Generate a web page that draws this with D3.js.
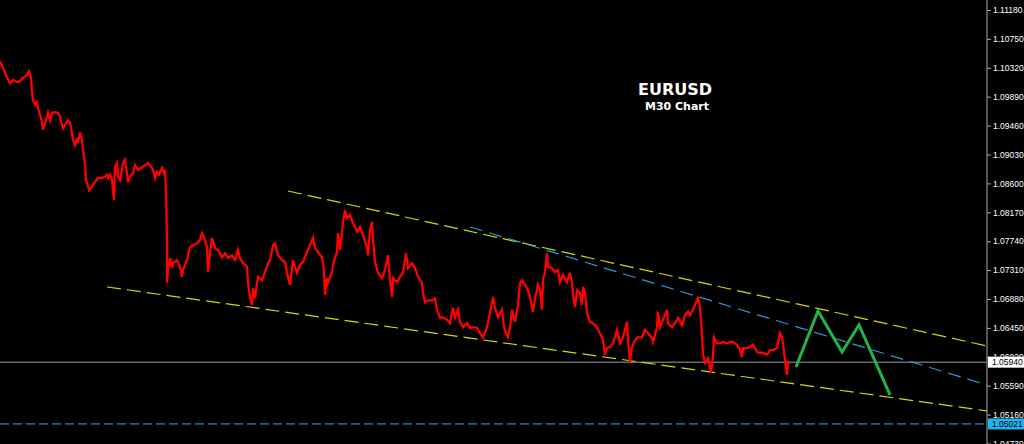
<!DOCTYPE html>
<html><head><meta charset="utf-8">
<script src="https://cdn.jsdelivr.net/npm/d3@7"></script>
<style>html,body{margin:0;padding:0;background:#000;overflow:hidden}</style>
</head><body><svg id="c" width="1024" height="444"></svg>
<script>
const title = "EURUSD";
const subtitle = "M30 Chart";
const tickLabels = ["1.11180","1.10750","1.10320","1.09890","1.09460","1.09030","1.08600","1.08170","1.07740","1.07310","1.06880","1.06450","1.06020","1.05590","1.05160","1.04730"];
const bars = [0,3,7,10,13,17,20,23,27,29,31,32,33,35,37,38,40,42,43,45,47,48,50,52,55,58,60,62,63,65,68,70,72,73,75,77,78,80,82,83,85,86,87,89,92,95,98,102,105,107,108,110,112,113,114,115,117,118,120,122,123,125,127,128,130,133,135,138,142,145,148,152,153,155,157,159,162,164,165,166,167,167,168,170,172,173,177,180,182,183,187,190,193,197,200,202,204,207,208,210,212,215,218,222,225,228,232,235,238,240,243,247,248,250,252,253,255,257,258,262,265,268,270,273,275,278,282,285,287,290,293,295,297,300,303,307,310,313,315,318,322,324,325,327,328,332,333,337,338,340,342,343,345,347,350,353,357,360,363,367,368,370,372,373,375,378,382,385,388,390,392,393,397,400,403,406,408,412,415,418,422,423,425,428,432,435,437,440,443,447,450,453,455,458,460,463,467,470,473,477,480,483,487,490,493,495,498,502,504,506,508,510,512,515,518,520,522,525,528,530,533,535,537,538,540,542,543,545,547,548,552,555,558,560,563,567,570,572,573,575,577,580,582,583,585,587,590,593,597,600,603,605,607,610,613,617,620,623,627,628,630,632,635,638,642,645,648,652,653,657,658,660,663,667,668,672,675,678,682,685,688,690,693,697,698,700,702,703,705,708,711,713,714,717,720,723,727,730,733,737,740,742,743,747,750,753,757,760,763,767,770,773,777,780,782,783,785,787,788,789];
const prices = [1.1042,1.1032,1.1018,1.1009,1.1014,1.1011,1.1012,1.1017,1.1021,1.1027,1.1018,1.0996,1.0984,1.0977,1.0981,1.0972,1.0962,1.0951,1.0940,1.0950,1.0959,1.0965,1.0954,1.0965,1.0966,1.0965,1.0959,1.0947,1.0942,1.0947,1.0954,1.0951,1.0935,1.0925,1.0917,1.0928,1.0920,1.0936,1.0925,1.0910,1.0890,1.0865,1.0861,1.0850,1.0855,1.0862,1.0868,1.0868,1.0870,1.0873,1.0868,1.0873,1.0865,1.0850,1.0835,1.0884,1.0890,1.0870,1.0865,1.0880,1.0890,1.0895,1.0875,1.0862,1.0870,1.0875,1.0887,1.0880,1.0884,1.0887,1.0890,1.0883,1.0880,1.0868,1.0877,1.0873,1.0883,1.0875,1.0880,1.0846,1.0780,1.0712,1.0731,1.0749,1.0734,1.0741,1.0746,1.0736,1.0721,1.0731,1.0746,1.0765,1.0768,1.0771,1.0776,1.0786,1.0780,1.0765,1.0728,1.0756,1.0779,1.0764,1.0761,1.0750,1.0756,1.0749,1.0753,1.0746,1.0761,1.0749,1.0741,1.0736,1.0712,1.0691,1.0679,1.0704,1.0689,1.0712,1.0721,1.0716,1.0728,1.0741,1.0746,1.0768,1.0771,1.0753,1.0746,1.0743,1.0727,1.0709,1.0746,1.0736,1.0727,1.0739,1.0743,1.0758,1.0768,1.0779,1.0764,1.0758,1.0750,1.0731,1.0694,1.0719,1.0712,1.0728,1.0739,1.0758,1.0786,1.0761,1.0786,1.0803,1.0820,1.0808,1.0813,1.0801,1.0788,1.0795,1.0783,1.0765,1.0753,1.0791,1.0803,1.0776,1.0743,1.0727,1.0719,1.0731,1.0753,1.0716,1.0691,1.0719,1.0713,1.0721,1.0727,1.0756,1.0734,1.0741,1.0734,1.0721,1.0712,1.0697,1.0683,1.0686,1.0686,1.0689,1.0672,1.0660,1.0661,1.0657,1.0652,1.0675,1.0660,1.0672,1.0654,1.0646,1.0652,1.0645,1.0646,1.0645,1.0637,1.0631,1.0646,1.0667,1.0691,1.0675,1.0661,1.0672,1.0646,1.0637,1.0631,1.0646,1.0672,1.0654,1.0679,1.0712,1.0716,1.0709,1.0701,1.0691,1.0669,1.0689,1.0701,1.0709,1.0701,1.0672,1.0716,1.0728,1.0756,1.0736,1.0734,1.0728,1.0731,1.0713,1.0724,1.0713,1.0727,1.0712,1.0694,1.0676,1.0701,1.0697,1.0679,1.0706,1.0697,1.0667,1.0654,1.0652,1.0646,1.0637,1.0627,1.0605,1.0615,1.0617,1.0622,1.0642,1.0622,1.0631,1.0654,1.0627,1.0594,1.0617,1.0627,1.0631,1.0631,1.0642,1.0637,1.0630,1.0624,1.0646,1.0669,1.0646,1.0657,1.0672,1.0652,1.0646,1.0652,1.0660,1.0649,1.0664,1.0669,1.0664,1.0672,1.0686,1.0689,1.0676,1.0637,1.0605,1.0593,1.0600,1.0578,1.0602,1.0631,1.0622,1.0622,1.0624,1.0622,1.0624,1.0624,1.0620,1.0612,1.0602,1.0615,1.0615,1.0617,1.0620,1.0609,1.0608,1.0608,1.0605,1.0612,1.0612,1.0615,1.0637,1.0631,1.0622,1.0597,1.0575,1.0593,1.0590];
const upperChannel = [[288,1.08487],[987,1.06181]];
const lowerChannel = [[107,1.07059],[987,1.05214]];
const blueTrend = [[470,1.07952],[987,1.05601]];
const forecast = [[796,1.05868],[818,1.06701],[842,1.06091],[859,1.06493],[890,1.05452]];
const currentPrice = 1.05940;
const levelPrice = 1.05021;

const svg = d3.select("#c");
const W = 1024, H = 444, plotRight = 987;
svg.append("rect").attr("width", W).attr("height", H).attr("fill", "#000");

const x = d3.scaleLinear().domain([0, 987]).range([0, plotRight]);
const y = d3.scaleLinear().domain([1.0473, 1.1118]).range([443.5, 10]);

svg.append("defs").append("clipPath").attr("id", "plot")
  .append("rect").attr("x", 0).attr("y", 0).attr("width", plotRight).attr("height", H);
const g = svg.append("g").attr("clip-path", "url(#plot)");

// horizontal level lines
g.append("line").attr("x1", 0).attr("x2", plotRight)
  .attr("y1", y(currentPrice)).attr("y2", y(currentPrice))
  .attr("stroke", "#9aa0a8").attr("stroke-width", 1);
g.append("line").attr("x1", 0).attr("x2", plotRight)
  .attr("y1", y(levelPrice)).attr("y2", y(levelPrice))
  .attr("stroke", "#1fb4f0").attr("stroke-width", 1).attr("stroke-dasharray", "9,4");

const line = d3.line().x(d => x(d[0])).y(d => y(d[1]));

// channel lines
[upperChannel, lowerChannel].forEach(c => {
  g.append("path").attr("d", line(c)).attr("fill", "none")
    .attr("stroke", "#d8d800").attr("stroke-width", 1.2).attr("stroke-dasharray", "14,6");
});
g.append("path").attr("d", line(blueTrend)).attr("fill", "none")
  .attr("stroke", "#1e9ed6").attr("stroke-width", 1.2).attr("stroke-dasharray", "13,7");

// price series
const series = bars.map((b, i) => [b, prices[i]]);
g.append("path").attr("d", line(series)).attr("fill", "none")
  .attr("stroke", "#ff0000").attr("stroke-width", 2.3).attr("stroke-linejoin", "miter");

// forecast zigzag
g.append("path").attr("d", line(forecast)).attr("fill", "none")
  .attr("stroke", "#22b34a").attr("stroke-width", 3).attr("stroke-linejoin", "miter");

// title
svg.append("text").attr("x", 675).attr("y", 95).attr("text-anchor", "middle")
  .attr("fill", "#fff").attr("font-family", "DejaVu Sans").attr("font-weight", "bold")
  .attr("font-size", 16).text(title);
svg.append("text").attr("x", 677).attr("y", 110).attr("text-anchor", "middle")
  .attr("fill", "#fff").attr("font-family", "DejaVu Sans").attr("font-weight", "bold")
  .attr("font-size", 11).text(subtitle);

// axis
const tickVals = tickLabels.map(Number);
const axis = d3.axisRight(y).tickValues(tickVals).tickSize(4).tickPadding(2)
  .tickFormat((d, i) => tickLabels[i]);
const ag = svg.append("g").attr("transform", `translate(${plotRight},0)`).call(axis);
ag.select(".domain").attr("stroke", "#a8a8a8").attr("d", `M0,0V${H}`);
ag.selectAll(".tick line").attr("stroke", "#a8a8a8");
ag.selectAll(".tick text").attr("fill", "#fff").attr("font-family", "Liberation Sans")
  .attr("font-size", 8.5);

// price labels
function priceLabel(p, bg) {
  const yy = y(p);
  svg.append("rect").attr("x", plotRight + 1).attr("y", yy - 5.5).attr("width", W - plotRight - 1)
    .attr("height", 11).attr("fill", bg);
  svg.append("text").attr("x", plotRight + 5).attr("y", yy + 3).attr("fill", "#000")
    .attr("font-family", "Liberation Sans").attr("font-size", 8.5).text(p.toFixed(5));
}
priceLabel(currentPrice, "#ffffff");
priceLabel(levelPrice, "#1fb4f0");
</script>
</body></html>
